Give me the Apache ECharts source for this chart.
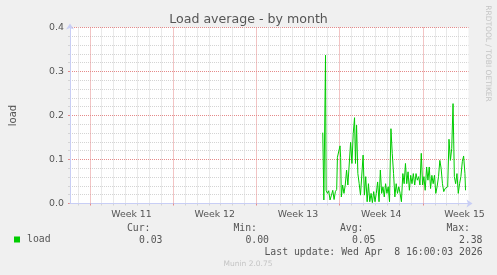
<!DOCTYPE html>
<html><head><meta charset="utf-8">
<script src="https://cdn.jsdelivr.net/npm/echarts@6/dist/echarts.min.js"></script>
<style>html,body{margin:0;padding:0;background:#f0f0f0;}#c{width:497px;height:275px;}</style>
</head><body><div id="c"></div>
<script>
const chartTitle = 'Load average - by month';
const yName = 'load';
const seriesName = 'load';
const weekLabels = ['Week 11', 'Week 12', 'Week 13', 'Week 14', 'Week 15'];
const weekStarts = [1.667, 8.667, 15.667, 22.667, 29.667];   // days from left edge
const weekCenters = [5.167, 12.167, 19.167, 26.167, 33.167];
const statHeads = ['Cur:', 'Min:', 'Avg:', 'Max:'];
const statVals = ['0.03', '0.00', '0.05', '2.38'];
const lastUpdate = 'Last update: Wed Apr  8 16:00:03 2026';
const footer = 'Munin 2.0.75';
const sideText = 'RRDTOOL / TOBI OETIKER';

const days = [21.25,21.34,21.48,21.53,21.64,21.75,21.86,21.98,22.09,22.20,22.31,22.42,22.48,22.59,22.70,22.75,22.81,22.92,23.03,23.14,
23.25,23.36,23.48,23.59,23.70,23.81,23.92,24.00,24.09,24.20,24.31,24.42,24.53,24.64,24.75,24.86,24.98,25.09,25.20,25.31,
25.42,25.53,25.64,25.75,25.86,25.98,26.09,26.20,26.31,26.42,26.53,26.64,26.75,26.86,26.98,27.09,27.20,27.31,27.42,27.53,
27.64,27.75,27.86,27.98,28.09,28.20,28.31,28.42,28.53,28.64,28.75,28.86,28.98,29.09,29.20,29.31,29.42,29.53,29.64,29.75,
29.86,29.98,30.09,30.20,30.31,30.42,30.53,30.64,30.75,30.86,30.98,31.09,31.20,31.31,31.42,31.53,31.64,31.75,31.86,31.98,
32.09,32.20,32.31,32.42,32.53,32.64,32.75,32.86,32.98,33.09,33.20,33.25];
const load = [0.161,0.008,0.337,0.030,0.023,0.029,0.008,0.019,0.030,0.009,0.027,0.032,0.105,0.105,0.131,0.105,0.015,0.042,0.023,0.042,
0.076,0.042,0.038,0.139,0.091,0.159,0.195,0.091,0.178,0.068,0.045,0.019,0.015,0.110,0.019,0.061,0.004,0.045,0.004,0.023,
0.002,0.027,0.004,0.023,0.049,0.004,0.076,0.023,0.038,0.015,0.045,0.023,0.038,0.004,0.170,0.114,0.068,0.015,0.045,0.023,
0.038,0.023,0.004,0.068,0.045,0.091,0.045,0.072,0.030,0.064,0.045,0.068,0.042,0.068,0.053,0.061,0.042,0.114,0.042,0.061,
0.030,0.083,0.053,0.083,0.034,0.064,0.045,0.064,0.023,0.038,0.061,0.098,0.080,0.045,0.027,0.034,0.030,0.038,0.146,0.098,
0.125,0.227,0.061,0.045,0.068,0.023,0.045,0.061,0.095,0.108,0.068,0.030];

const dayTicks = [];
for (let d = weekStarts[0] - 1; d < 33.5; d += 1) {
  const v = +d.toFixed(3);
  if (!weekStarts.some(w => Math.abs(w - v) < 0.01)) dayTicks.push(v);
}

const sans = 'DejaVu Sans';
const mono = 'DejaVu Sans Mono';
const txt = '#555';
const redGrid = '#e58a8a';
const greyGrid = '#d4d4d4';
const axisCol = '#c8cef5';
const dotted = (c) => ({color: c, type: [1, 1], width: 1});

const chart = echarts.init(document.getElementById('c'), null, {renderer: 'canvas'});
const statGraphics = [];
const headRight = [150.5, 257, 363.5, 470];
const valRight = [162.5, 269, 375.5, 482.5];
statHeads.forEach((h, i) => {
  statGraphics.push({type: 'text', x: headRight[i], y: 228.5, style: {text: h, font: '9.8px "' + mono + '"', fill: txt, align: 'right', verticalAlign: 'middle'}});
  statGraphics.push({type: 'text', x: valRight[i], y: 240, style: {text: statVals[i], font: '9.8px "' + mono + '"', fill: txt, align: 'right', verticalAlign: 'middle'}});
});

chart.setOption({
  animation: false,
  backgroundColor: '#f0f0f0',
  title: {text: chartTitle, left: 'center', top: 13, padding: 0,
    textStyle: {fontFamily: sans, fontSize: 12.6, fontWeight: 'normal', color: '#555'}},
  legend: {data: [seriesName], left: 14, top: 234.5, padding: 0, itemWidth: 6, itemHeight: 6, icon: 'rect',
    textStyle: {fontFamily: mono, fontSize: 9.8, color: txt, padding: [0, 0, 0, 2]}},
  grid: {left: 66.5, top: 27.5, width: 402, height: 176, show: true, backgroundColor: '#ffffff', borderWidth: 0, containLabel: false},
  xAxis: [{
    type: 'value', min: 0, max: 33.5, position: 'bottom', z: 3,
    axisLine: {show: true, lineStyle: {color: axisCol, width: 1}, symbol: ['none', 'arrow'], symbolSize: [6, 6], symbolOffset: [0, 4]},
    axisTick: {show: true, length: 2, lineStyle: {color: redGrid}, customValues: weekStarts},
    splitLine: {show: true, lineStyle: dotted(redGrid)},
    axisLabel: {show: true, customValues: weekCenters, margin: 6.5, fontFamily: sans, fontSize: 9.4, color: txt,
      formatter: v => { const i = weekCenters.findIndex(c => Math.abs(c - v) < 0.01); return i >= 0 ? weekLabels[i] : ''; }}
  }, {
    type: 'value', min: 0, max: 33.5, position: 'bottom', z: 1,
    axisLine: {show: false},
    axisTick: {show: true, length: 2, lineStyle: {color: greyGrid}, customValues: dayTicks},
    splitLine: {show: true, lineStyle: dotted(greyGrid)},
    axisLabel: {show: false}
  }],
  yAxis: {
    type: 'value', min: 0, max: 0.4, interval: 0.1,
    name: yName, nameLocation: 'middle', nameGap: 52,
    nameTextStyle: {fontFamily: sans, fontSize: 10, color: txt},
    axisLine: {show: true, lineStyle: {color: axisCol, width: 1}, symbol: ['none', 'arrow'], symbolSize: [6, 6], symbolOffset: [0, 4]},
    axisTick: {show: true, length: 2, lineStyle: {color: redGrid}},
    minorTick: {show: true, splitNumber: 5, length: 2, lineStyle: {color: greyGrid}},
    splitLine: {show: true, lineStyle: dotted(redGrid)},
    minorSplitLine: {show: true, lineStyle: dotted(greyGrid)},
    axisLabel: {margin: 6, fontFamily: sans, fontSize: 9.4, color: txt, formatter: v => v.toFixed(1)}
  },
  series: [{
    name: seriesName, type: 'line', xAxisIndex: 0, showSymbol: false, symbol: 'none', z: 5,
    itemStyle: {color: '#00cc00'},
    lineStyle: {color: '#00cc00', width: 1},
    data: days.map((d, i) => [d, load[i]])
  }],
  graphic: [
    ...statGraphics,
    {type: 'text', x: 482.7, y: 252, style: {text: lastUpdate, font: '9.8px "' + mono + '"', fill: txt, align: 'right', verticalAlign: 'middle'}},
    {type: 'text', x: 248, y: 264, style: {text: footer, font: '7.5px "' + sans + '"', fill: '#c4c4c4', align: 'center', verticalAlign: 'middle'}},
    {type: 'text', x: 487.5, y: 53.5, rotation: -Math.PI / 2, style: {text: sideText, font: '7.5px "' + sans + '"', fill: '#c4c4c4', align: 'center', verticalAlign: 'middle'}}
  ]
});
</script>
</body></html>
